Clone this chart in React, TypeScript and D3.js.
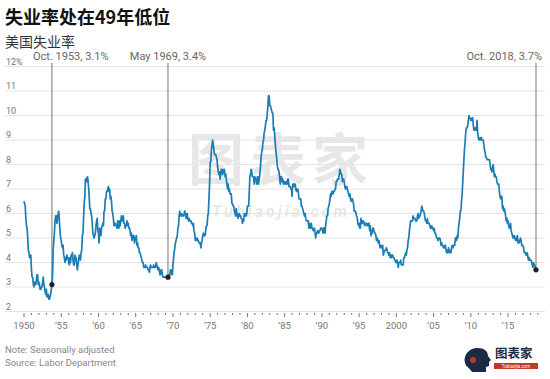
import React from "react";
import * as d3 from "d3";

// Monthly US unemployment rate (%), seasonally adjusted, Jan 1950 – Oct 2018
const rates1950s = [
  6.5, 6.4, 6.3, 5.8, 5.5, 5.4, 5.0, 4.5, 4.4, 4.2, 4.2, 4.3,
  3.7, 3.4, 3.4, 3.1, 3.0, 3.2, 3.1, 3.1, 3.3, 3.5, 3.5, 3.1,
  3.2, 3.1, 2.9, 2.9, 3.0, 3.0, 3.2, 3.4, 3.1, 3.0, 2.8, 2.7,
  2.9, 2.6, 2.6, 2.7, 2.5, 2.5, 2.6, 2.7, 2.9, 3.1, 3.5, 4.5,
  4.9, 5.2, 5.7, 5.9, 5.9, 5.6, 5.8, 6.0, 6.1, 5.7, 5.3, 5.0,
  4.9, 4.7, 4.6, 4.7, 4.3, 4.2, 4.0, 4.2, 4.1, 4.3, 4.2, 4.2,
  4.0, 3.9, 4.2, 4.0, 4.3, 4.3, 4.4, 4.1, 3.9, 3.9, 4.3, 4.2,
  4.2, 3.9, 3.7, 3.9, 4.1, 4.3, 4.2, 4.1, 4.4, 4.5, 5.1, 5.2,
  5.8, 6.4, 6.7, 7.4, 7.4, 7.3, 7.5, 7.4, 7.1, 6.7, 6.2, 6.2,
  6.0, 5.9, 5.6, 5.2, 5.1, 5.0, 5.1, 5.2, 5.5, 5.7, 5.8, 5.3,
];
const rates1960s = [
  5.2, 4.8, 5.4, 5.2, 5.1, 5.4, 5.5, 5.6, 5.5, 6.1, 6.1, 6.6,
  6.6, 6.9, 6.9, 7.0, 7.1, 6.9, 7.0, 6.6, 6.7, 6.5, 6.1, 6.0,
  5.8, 5.5, 5.6, 5.6, 5.5, 5.5, 5.4, 5.7, 5.6, 5.4, 5.7, 5.5,
  5.7, 5.9, 5.7, 5.7, 5.9, 5.6, 5.6, 5.4, 5.5, 5.5, 5.7, 5.5,
  5.6, 5.4, 5.4, 5.3, 5.1, 5.2, 4.9, 5.0, 5.1, 5.1, 4.8, 5.0,
  4.9, 5.1, 4.7, 4.8, 4.6, 4.6, 4.4, 4.4, 4.3, 4.2, 4.1, 4.0,
  4.0, 3.8, 3.8, 3.8, 3.9, 3.8, 3.8, 3.8, 3.7, 3.7, 3.6, 3.8,
  3.9, 3.8, 3.8, 3.8, 3.8, 3.9, 3.8, 3.8, 3.8, 4.0, 3.9, 3.8,
  3.7, 3.8, 3.7, 3.5, 3.5, 3.7, 3.7, 3.5, 3.4, 3.4, 3.4, 3.4,
  3.4, 3.4, 3.4, 3.4, 3.4, 3.5, 3.5, 3.5, 3.7, 3.7, 3.5, 3.5,
];
const rates1970s = [
  3.9, 4.2, 4.4, 4.6, 4.8, 4.9, 5.0, 5.1, 5.4, 5.5, 5.9, 6.1,
  5.9, 5.9, 6.0, 5.9, 5.9, 5.9, 6.0, 6.1, 6.0, 5.8, 6.0, 6.0,
  5.8, 5.7, 5.8, 5.7, 5.7, 5.7, 5.6, 5.6, 5.5, 5.6, 5.3, 5.2,
  4.9, 5.0, 4.9, 5.0, 4.9, 4.9, 4.8, 4.8, 4.8, 4.6, 4.8, 4.9,
  5.1, 5.2, 5.1, 5.1, 5.1, 5.4, 5.5, 5.5, 5.9, 6.0, 6.6, 7.2,
  8.1, 8.1, 8.6, 8.8, 9.0, 8.8, 8.6, 8.4, 8.4, 8.4, 8.3, 8.2,
  7.9, 7.7, 7.6, 7.7, 7.4, 7.6, 7.8, 7.8, 7.6, 7.7, 7.8, 7.8,
  7.5, 7.6, 7.4, 7.2, 7.0, 7.2, 6.9, 7.0, 6.8, 6.8, 6.8, 6.4,
  6.4, 6.3, 6.3, 6.1, 6.0, 5.9, 6.2, 5.9, 6.0, 5.8, 5.9, 6.0,
  5.9, 5.9, 5.8, 5.8, 5.6, 5.7, 5.7, 6.0, 5.9, 6.0, 5.9, 6.0,
];
const rates1980s = [
  6.3, 6.3, 6.3, 6.9, 7.5, 7.6, 7.8, 7.7, 7.5, 7.5, 7.5, 7.2,
  7.5, 7.4, 7.4, 7.2, 7.5, 7.5, 7.2, 7.4, 7.6, 7.9, 8.3, 8.5,
  8.6, 8.9, 9.0, 9.3, 9.4, 9.6, 9.8, 9.8, 10.1, 10.4, 10.8, 10.8,
  10.4, 10.4, 10.3, 10.2, 10.1, 10.1, 9.4, 9.5, 9.2, 8.8, 8.5, 8.3,
  8.0, 7.8, 7.8, 7.7, 7.4, 7.2, 7.5, 7.5, 7.3, 7.4, 7.2, 7.3,
  7.3, 7.2, 7.2, 7.3, 7.2, 7.4, 7.4, 7.1, 7.1, 7.1, 7.0, 7.0,
  6.7, 7.2, 7.2, 7.1, 7.2, 7.2, 7.0, 6.9, 7.0, 7.0, 6.9, 6.6,
  6.6, 6.6, 6.6, 6.3, 6.3, 6.2, 6.1, 6.0, 5.9, 6.0, 5.8, 5.7,
  5.7, 5.7, 5.7, 5.4, 5.6, 5.4, 5.4, 5.6, 5.4, 5.4, 5.3, 5.3,
  5.4, 5.2, 5.0, 5.2, 5.2, 5.3, 5.2, 5.2, 5.3, 5.3, 5.4, 5.4,
];
const rates1990s = [
  5.4, 5.3, 5.2, 5.4, 5.4, 5.2, 5.5, 5.7, 5.9, 5.9, 6.2, 6.3,
  6.4, 6.6, 6.8, 6.7, 6.9, 6.9, 6.8, 6.9, 6.9, 7.0, 7.0, 7.3,
  7.3, 7.4, 7.4, 7.4, 7.6, 7.8, 7.7, 7.6, 7.6, 7.3, 7.4, 7.4,
  7.3, 7.1, 7.0, 7.1, 7.1, 7.0, 6.9, 6.8, 6.7, 6.8, 6.6, 6.5,
  6.6, 6.6, 6.5, 6.4, 6.1, 6.1, 6.1, 6.0, 5.9, 5.8, 5.6, 5.5,
  5.6, 5.4, 5.4, 5.8, 5.6, 5.6, 5.7, 5.7, 5.6, 5.5, 5.6, 5.6,
  5.6, 5.5, 5.5, 5.6, 5.6, 5.3, 5.5, 5.1, 5.2, 5.2, 5.4, 5.4,
  5.3, 5.2, 5.2, 5.1, 4.9, 5.0, 4.9, 4.8, 4.9, 4.7, 4.6, 4.7,
  4.6, 4.6, 4.7, 4.3, 4.4, 4.5, 4.5, 4.5, 4.6, 4.5, 4.4, 4.4,
  4.3, 4.4, 4.2, 4.3, 4.2, 4.3, 4.3, 4.2, 4.2, 4.1, 4.1, 4.0,
];
const rates2000s = [
  4.0, 4.1, 4.0, 3.8, 4.0, 4.0, 4.0, 4.1, 3.9, 3.9, 3.9, 3.9,
  4.2, 4.2, 4.3, 4.4, 4.3, 4.5, 4.6, 4.9, 5.0, 5.3, 5.5, 5.7,
  5.7, 5.7, 5.7, 5.9, 5.8, 5.8, 5.8, 5.7, 5.7, 5.7, 5.9, 6.0,
  5.8, 5.9, 5.9, 6.0, 6.1, 6.3, 6.2, 6.1, 6.1, 6.0, 5.8, 5.7,
  5.7, 5.6, 5.8, 5.6, 5.6, 5.6, 5.5, 5.4, 5.4, 5.5, 5.4, 5.4,
  5.3, 5.4, 5.2, 5.2, 5.1, 5.0, 5.0, 4.9, 5.0, 5.0, 5.0, 4.9,
  4.7, 4.8, 4.7, 4.7, 4.6, 4.6, 4.7, 4.7, 4.5, 4.4, 4.5, 4.4,
  4.6, 4.5, 4.4, 4.5, 4.4, 4.6, 4.7, 4.6, 4.7, 4.7, 4.7, 5.0,
  5.0, 4.9, 5.1, 5.0, 5.4, 5.6, 5.8, 6.1, 6.1, 6.5, 6.8, 7.3,
  7.8, 8.3, 8.7, 9.0, 9.4, 9.5, 9.5, 9.6, 9.8, 10.0, 9.9, 9.9,
];
const rates2010s = [
  9.8, 9.8, 9.9, 9.9, 9.6, 9.4, 9.4, 9.5, 9.5, 9.4, 9.8, 9.3,
  9.1, 9.0, 9.0, 9.1, 9.0, 9.1, 9.0, 9.0, 9.0, 8.8, 8.6, 8.5,
  8.3, 8.3, 8.2, 8.2, 8.2, 8.2, 8.2, 8.0, 7.8, 7.8, 7.7, 7.9,
  8.0, 7.7, 7.5, 7.6, 7.5, 7.5, 7.3, 7.2, 7.2, 7.2, 6.9, 6.7,
  6.6, 6.7, 6.7, 6.2, 6.3, 6.1, 6.2, 6.1, 5.9, 5.7, 5.8, 5.6,
  5.7, 5.5, 5.4, 5.4, 5.6, 5.3, 5.2, 5.1, 5.0, 5.0, 5.1, 5.0,
  4.9, 4.9, 5.0, 5.1, 4.8, 4.9, 4.8, 4.9, 5.0, 4.9, 4.7, 4.7,
  4.7, 4.6, 4.4, 4.4, 4.4, 4.3, 4.3, 4.4, 4.2, 4.1, 4.2, 4.1,
  4.1, 4.1, 4.0, 3.9, 3.8, 4.0, 3.9, 3.9, 3.7, 3.7,
];

const yTicks = [2, 3, 4, 5, 6, 7, 8, 9, 10, 11, 12];
const xLabelYears = [1950, 1955, 1960, 1965, 1970, 1975, 1980, 1985, 1990, 1995, 2000, 2005, 2010, 2015];
const xLabelTexts = ["1950", "\u201955", "\u201960", "\u201965", "\u201970", "\u201975", "\u201980", "\u201985", "\u201990", "\u201995", "2000", "\u201905", "\u201910", "\u201915"];

// Annotated lows
const annYears = [1953 + 9 / 12, 1969 + 4 / 12, 2018 + 9 / 12];
const annValues = [3.1, 3.4, 3.7];
const annLabels = ["Oct. 1953, 3.1%", "May 1969, 3.4%", "Oct. 2018, 3.7%"];
const annAnchors = ["start", "middle", "end"];

const FONT = "Roboto, 'Open Sans', 'DejaVu Sans', sans-serif";
const CJK = "'Noto Sans CJK SC', 'Noto Sans', sans-serif";

export default function App() {
  const W = 550;
  const H = 379;
  const all = [...rates1950s, ...rates1960s, ...rates1970s, ...rates1980s, ...rates1990s, ...rates2000s, ...rates2010s];
  const data = all.map((v, i) => ({ t: 1950 + i / 12, v }));

  const x = d3.scaleLinear().domain([1950, 2018 + 9 / 12]).range([24, 536]);
  const y = d3.scaleLinear().domain([2, 12]).range([311.5, 66.5]);

  const line = d3
    .line<{ t: number; v: number }>()
    .x((d) => x(d.t))
    .y((d) => y(d.v))
    .curve(d3.curveLinear);

  const years = d3.range(1950, 2020);
  const axisY = 313;

  return (
    <svg width={W} height={H} style={{ position: "absolute", left: 0, top: 0, background: "#fff" }}>
      <rect x={0} y={0} width={W} height={H} fill="#fff" />
      {/* Title */}
      <text x={5} y={24} fontFamily={CJK} fontWeight={700} fontSize={18} fill="#111">
        失业率处在49年低位
      </text>
      <text x={5} y={47} fontFamily={CJK} fontSize={14} fill="#333">
        美国失业率
      </text>

      {/* Watermark */}
      <g opacity={0.09} fill="#000">
        <text x={281} y={180} textAnchor="middle" fontFamily={CJK} fontWeight={700} fontSize={56} letterSpacing={6}>
          图表家
        </text>
        <text x={281} y={217} textAnchor="middle" fontFamily={FONT} fontWeight={700} fontStyle="italic" fontSize={16} letterSpacing={3}>
          Tubiaojia.com
        </text>
      </g>

      {/* Gridlines and y labels */}
      {yTicks.map((t) => (
        <g key={t}>
          <line x1={5} x2={545} y1={y(t)} y2={y(t)} stroke="#e4e4e4" strokeWidth={1} />
          <text x={6} y={y(t) - 2} fontFamily={FONT} fontSize={9} fill="#777">
            {t === 12 ? "12%" : t}
          </text>
        </g>
      ))}

      {/* X axis ticks */}
      {years.map((yr) => (
        <line
          key={yr}
          x1={x(yr)}
          x2={x(yr)}
          y1={axisY}
          y2={axisY + (yr % 5 === 0 ? 4 : 2)}
          stroke="#777"
          strokeWidth={1}
        />
      ))}
      {xLabelYears.map((yr, i) => (
        <text key={yr} x={x(yr)} y={329} textAnchor="middle" fontFamily={FONT} fontSize={9.5} fill="#777">
          {xLabelTexts[i]}
        </text>
      ))}

      {/* Annotation lines */}
      {annYears.map((t, i) => (
        <line key={"al" + i} x1={x(t)} x2={x(t)} y1={63} y2={y(annValues[i])} stroke="#8a8a8a" strokeWidth={1.2} />
      ))}

      {/* Data line */}
      <path d={line(data) || ""} fill="none" stroke="#1a7db6" strokeWidth={1.7} strokeLinejoin="round" />

      {/* Annotation dots and labels */}
      {annYears.map((t, i) => (
        <g key={"an" + i}>
          <circle cx={x(t)} cy={y(annValues[i])} r={2.6} fill="#222" />
          <text
            x={i === 0 ? 33 : i === 2 ? 542 : x(t)}
            y={60}
            textAnchor={annAnchors[i] as any}
            fontFamily={FONT}
            fontSize={11}
            fill="#666"
          >
            {annLabels[i]}
          </text>
        </g>
      ))}

      {/* Notes */}
      <text x={5} y={353} fontFamily={FONT} fontSize={9.5} fill="#888">
        Note: Seasonally adjusted
      </text>
      <text x={5} y={366} fontFamily={FONT} fontSize={9.5} fill="#888">
        Source: Labor Department
      </text>

      {/* Logo */}
      <g>
        <path d="M478,348 C468,348 463,356 465,363 C466,367 470,368 472,372 L486,372 L486,367 L489,366 L489,362 L491,360 L488,356 C488,351 484,348 478,348 Z" fill="#1d2a44" />
        <circle cx={473} cy={360} r={3} fill="#c0392b" />
        <text x={495} y={358} fontFamily={CJK} fontWeight={700} fontSize={12.5} fill="#1d2a44">
          图表家
        </text>
        <rect x={494} y={363} width={44} height={6} fill="#c0392b" />
        <text x={516} y={368} textAnchor="middle" fontFamily={FONT} fontSize={4.5} fill="#fff">
          Tubiaojia.com
        </text>
      </g>
    </svg>
  );
}
